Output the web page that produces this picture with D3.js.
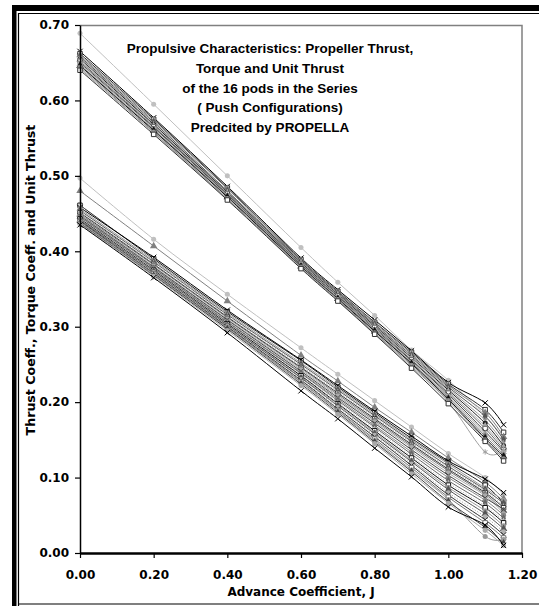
<!DOCTYPE html>
<html>
<head>
<meta charset="utf-8">
<script src="https://cdn.jsdelivr.net/npm/d3@7"></script>
<style>
  html, body { margin: 0; padding: 0; background: #fff; overflow: hidden; }
  svg { display: block; }
  svg text { font-family: "DejaVu Sans", Arial, sans-serif; font-weight: bold; fill: #000; }
  svg text.title { font-family: "Liberation Sans", Arial, sans-serif; }
</style>
</head>
<body>
<svg id="chart"></svg>
<script>
// advance coefficient stations
const advanceJ = [0, 0.2, 0.4, 0.6, 0.7, 0.8, 0.9, 1.0, 1.1, 1.15];

// 10KQ curves (upper bundle), one per pod
const torqueSeries = [
  [0.689, 0.595, 0.500, 0.405, 0.359, 0.315, 0.269, 0.229, 0.182, 0.152],
  [0.665, 0.577, 0.486, 0.391, 0.349, 0.309, 0.268, 0.226, 0.199, 0.170],
  [0.662, 0.575, 0.484, 0.389, 0.347, 0.306, 0.266, 0.224, 0.190, 0.160],
  [0.660, 0.573, 0.483, 0.388, 0.346, 0.305, 0.264, 0.222, 0.186, 0.154],
  [0.658, 0.571, 0.480, 0.387, 0.345, 0.303, 0.262, 0.220, 0.181, 0.150],
  [0.657, 0.569, 0.479, 0.386, 0.344, 0.302, 0.261, 0.218, 0.176, 0.146],
  [0.655, 0.568, 0.478, 0.385, 0.343, 0.301, 0.259, 0.216, 0.172, 0.142],
  [0.654, 0.566, 0.477, 0.384, 0.342, 0.300, 0.258, 0.214, 0.168, 0.140],
  [0.652, 0.565, 0.476, 0.383, 0.341, 0.299, 0.256, 0.212, 0.165, 0.137],
  [0.650, 0.564, 0.475, 0.382, 0.340, 0.297, 0.255, 0.210, 0.161, 0.135],
  [0.649, 0.562, 0.474, 0.381, 0.339, 0.296, 0.253, 0.208, 0.158, 0.133],
  [0.647, 0.561, 0.473, 0.380, 0.338, 0.295, 0.252, 0.206, 0.155, 0.130],
  [0.646, 0.560, 0.472, 0.380, 0.337, 0.294, 0.251, 0.204, 0.152, 0.128],
  [0.644, 0.558, 0.470, 0.379, 0.336, 0.292, 0.249, 0.202, 0.150, 0.125],
  [0.642, 0.557, 0.469, 0.378, 0.335, 0.291, 0.247, 0.200, 0.134, 0.137],
  [0.640, 0.555, 0.468, 0.377, 0.334, 0.290, 0.245, 0.198, 0.148, 0.122]
];

// KT and unit thrust curves (lower bundle)
const thrustSeries = [
  [0.497, 0.416, 0.343, 0.272, 0.237, 0.202, 0.167, 0.132, 0.100, 0.078],
  [0.480, 0.407, 0.334, 0.262, 0.228, 0.193, 0.160, 0.126, 0.094, 0.072],
  [0.461, 0.390, 0.320, 0.255, 0.220, 0.186, 0.152, 0.120, 0.090, 0.066],
  [0.458, 0.392, 0.322, 0.256, 0.222, 0.188, 0.155, 0.122, 0.098, 0.080],
  [0.456, 0.388, 0.318, 0.252, 0.218, 0.184, 0.150, 0.118, 0.086, 0.070],
  [0.454, 0.386, 0.316, 0.250, 0.216, 0.182, 0.148, 0.115, 0.084, 0.066],
  [0.452, 0.385, 0.315, 0.248, 0.214, 0.180, 0.146, 0.113, 0.082, 0.062],
  [0.451, 0.383, 0.313, 0.246, 0.212, 0.178, 0.144, 0.111, 0.080, 0.060],
  [0.449, 0.382, 0.312, 0.245, 0.210, 0.176, 0.142, 0.109, 0.078, 0.056],
  [0.448, 0.380, 0.310, 0.243, 0.208, 0.174, 0.140, 0.106, 0.076, 0.052],
  [0.447, 0.379, 0.309, 0.241, 0.206, 0.172, 0.137, 0.103, 0.073, 0.058],
  [0.446, 0.378, 0.307, 0.239, 0.204, 0.169, 0.134, 0.100, 0.070, 0.050],
  [0.445, 0.377, 0.306, 0.238, 0.202, 0.167, 0.131, 0.096, 0.066, 0.046],
  [0.444, 0.376, 0.305, 0.236, 0.200, 0.165, 0.128, 0.093, 0.062, 0.043],
  [0.443, 0.375, 0.304, 0.235, 0.198, 0.162, 0.126, 0.090, 0.060, 0.040],
  [0.442, 0.374, 0.303, 0.233, 0.197, 0.160, 0.123, 0.087, 0.056, 0.036],
  [0.441, 0.373, 0.302, 0.232, 0.195, 0.158, 0.121, 0.084, 0.052, 0.032],
  [0.440, 0.372, 0.301, 0.230, 0.193, 0.156, 0.118, 0.080, 0.048, 0.028],
  [0.440, 0.371, 0.300, 0.229, 0.191, 0.154, 0.116, 0.077, 0.044, 0.024],
  [0.439, 0.370, 0.299, 0.227, 0.189, 0.151, 0.113, 0.074, 0.040, 0.020],
  [0.438, 0.369, 0.298, 0.226, 0.188, 0.149, 0.110, 0.071, 0.022, 0.018],
  [0.437, 0.368, 0.297, 0.224, 0.186, 0.147, 0.108, 0.068, 0.034, 0.013],
  [0.436, 0.367, 0.295, 0.222, 0.184, 0.145, 0.105, 0.066, 0.030, 0.010],
  [0.435, 0.365, 0.292, 0.215, 0.178, 0.139, 0.101, 0.061, 0.037, 0.010]
];

const xTicks = [0, 0.2, 0.4, 0.6, 0.8, 1.0, 1.2];
const yTicks = [0, 0.1, 0.2, 0.3, 0.4, 0.5, 0.6, 0.7];

const titleLines = [
  "Propulsive Characteristics: Propeller Thrust,",
  "Torque and Unit Thrust",
  "of the 16 pods in the Series",
  "( Push Configurations)",
  "Predcited by PROPELLA"
];

// looks cycled through series, like the spreadsheet defaults
const torqueColors = ["#c0c0c0", "#000", "#333", "#808080", "#555", "#999", "#222", "#aaa", "#666", "#444", "#b0b0b0", "#777", "#111", "#8c8c8c", "#a0a0a0", "#333"];
const torqueMarks = ["circle", "x", "square", "triangle", "diamond", "star", "circle", "triangle", "square", "x", "circle", "diamond", "triangle", "circle", "star", "square"];
const thrustColors = ["#c0c0c0", "#808080", "#222", "#000", "#999", "#555", "#b0b0b0", "#333", "#777", "#aaa", "#444", "#888", "#666", "#c0c0c0", "#111", "#999", "#555", "#b0b0b0", "#333", "#777", "#999", "#444", "#aaa", "#000"];
const thrustMarks = ["circle", "triangle", "square", "x", "circle", "diamond", "star", "square", "triangle", "circle", "x", "circle", "diamond", "star", "square", "circle", "triangle", "circle", "x", "square", "circle", "diamond", "circle", "x"];
const dottedThrust = [6, 13, 17];

const width = 539;
const height = 606;
const margin = { top: 25, right: 17, bottom: 53, left: 80 };
const innerWidth = width - margin.left - margin.right;
const innerHeight = height - margin.top - margin.bottom;

const svg = d3.select("#chart").attr("width", width).attr("height", height);

// frame
svg.append("rect").attr("x", 12).attr("y", 5).attr("width", 527).attr("height", 6).attr("fill", "#000");
svg.append("rect").attr("x", 12).attr("y", 5).attr("width", 4.5).attr("height", 601).attr("fill", "#000");
svg.append("path").attr("d", "M18.5,606V13.5H539").attr("fill", "none").attr("stroke", "#000").attr("stroke-width", 1.2);
svg.append("line").attr("x1", 18).attr("x2", 539).attr("y1", 604).attr("y2", 604).attr("stroke", "#000").attr("stroke-width", 1.2);

const xScale = d3.scaleLinear().domain([0, 1.2]).range([0, innerWidth]);
const yScale = d3.scaleLinear().domain([0, 0.7]).range([innerHeight, 0]);

const chartArea = svg.append("g").attr("transform", `translate(${margin.left},${margin.top})`);

// top and right plot border (grey)
chartArea.append("path")
  .attr("d", `M0,0.5H${innerWidth}V${innerHeight}`)
  .attr("fill", "none").attr("stroke", "#808080").attr("stroke-width", 1.5);

const symbolFor = {
  circle: d3.symbolCircle,
  square: d3.symbolSquare,
  triangle: d3.symbolTriangle,
  diamond: d3.symbolDiamond,
  x: d3.symbolX,
  star: d3.symbolAsterisk
};
const strokeMarks = ["x", "star", "square"];

const line = d3.line()
  .x((d, i) => xScale(advanceJ[i]))
  .y((d) => yScale(d))
  .curve(d3.curveCardinal);

function drawGroup(series, colors, marks, dotted) {
  series.forEach((values, s) => {
    const col = colors[s % colors.length];
    const mk = marks[s % marks.length];
    chartArea.append("path")
      .datum(values)
      .attr("fill", "none")
      .attr("stroke", col)
      .attr("stroke-width", 1)
      .attr("stroke-dasharray", dotted.includes(s) ? "1.5,1.5" : null)
      .attr("d", line);
    const isStroke = strokeMarks.includes(mk);
    chartArea.selectAll(null)
      .data(values)
      .enter()
      .append("path")
      .attr("transform", (d, i) => `translate(${xScale(advanceJ[i])},${yScale(d)})`)
      .attr("d", d3.symbol().type(symbolFor[mk]).size(mk === "triangle" ? 24 : 20))
      .attr("fill", isStroke ? (mk === "square" ? "#fff" : "none") : col)
      .attr("stroke", isStroke ? col : "none")
      .attr("stroke-width", 1);
  });
}

drawGroup(torqueSeries, torqueColors, torqueMarks, []);
drawGroup(thrustSeries, thrustColors, thrustMarks, dottedThrust);

// axes
const xAxis = chartArea.append("g")
  .attr("transform", `translate(0,${innerHeight})`)
  .call(d3.axisBottom(xScale).tickValues(xTicks).tickFormat(d3.format(".2f")).tickSize(5).tickSizeOuter(0));
xAxis.select(".domain").attr("stroke-width", 2.5);
xAxis.selectAll("text").attr("dy", "1.5em").style("font-size", "12px");

const yAxis = chartArea.append("g")
  .call(d3.axisLeft(yScale).tickValues(yTicks).tickFormat(d3.format(".2f")).tickSize(5).tickSizeOuter(0));
yAxis.select(".domain").attr("stroke-width", 1.5);
yAxis.selectAll("text").attr("x", -11).style("font-size", "12px");
svg.selectAll(".tick line").attr("stroke-width", 1.2);

// axis titles
svg.append("text")
  .attr("text-anchor", "middle")
  .attr("x", margin.left + innerWidth / 2)
  .attr("y", 596)
  .style("font-size", "12px")
  .text("Advance Coefficient, J");

svg.append("text")
  .attr("text-anchor", "middle")
  .attr("transform", "rotate(-90)")
  .attr("x", -280)
  .attr("y", 35)
  .style("font-size", "12.6px")
  .text("Thrust Coeff., Torque Coeff. and Unit Thrust");

// chart title
svg.append("g")
  .selectAll("text")
  .data(titleLines)
  .enter()
  .append("text")
  .attr("class", "title")
  .attr("text-anchor", "middle")
  .attr("x", 270)
  .attr("y", (d, i) => 53 + i * 19.8)
  .style("font-size", "13.5px")
  .text((d) => d);
</script>
</body>
</html>
